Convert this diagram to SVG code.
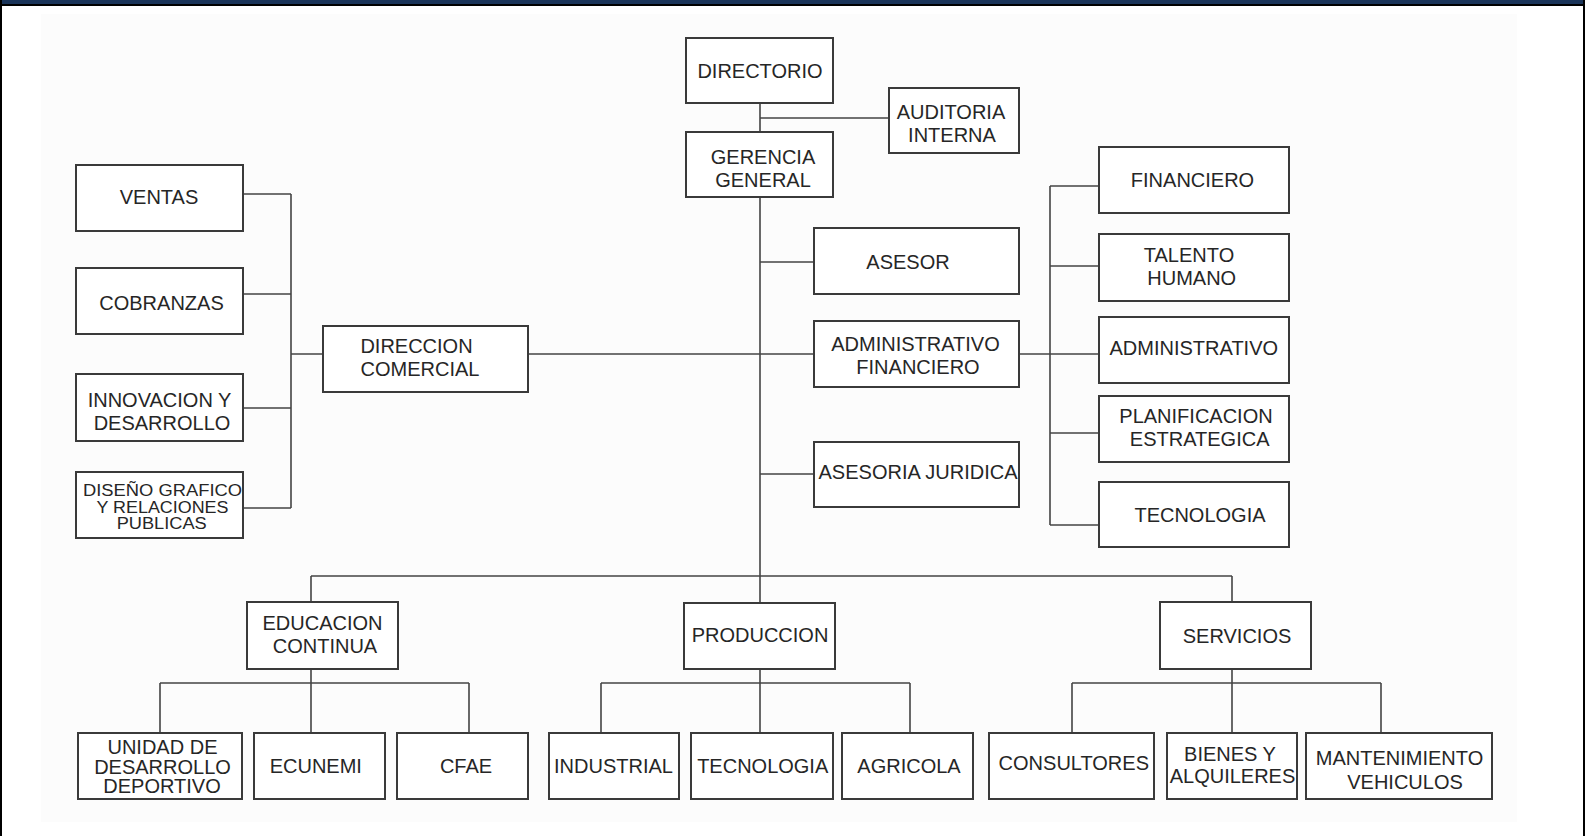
<svg xmlns="http://www.w3.org/2000/svg" width="1585" height="836" viewBox="0 0 1585 836">
<style>
.box{fill:#ffffff;stroke:#3a3a3a;stroke-width:2}
.ln{fill:none;stroke:#444444;stroke-width:1.6}
text{font-family:"Liberation Sans",Arial,Helvetica,sans-serif;font-size:20px;fill:#262626;text-anchor:middle}
.sm{font-size:16px}
</style>
<rect x="0" y="0" width="1585" height="836" fill="#ffffff"/>
<rect x="41" y="14" width="1476" height="808" fill="#fcfcfc"/>
<rect x="0" y="0" width="1585" height="4" fill="#1a3459"/>
<rect x="0" y="4" width="1585" height="2" fill="#000000"/>
<rect x="0" y="0" width="2" height="836" fill="#000000"/>
<rect x="1583" y="0" width="2" height="836" fill="#000000"/>

<g id="connectors">
<path class="ln" d="M760,103V132M760,118H889M760,197V576"/>
<path class="ln" d="M760,262H814M528,354H814M760,474H814"/>
<path class="ln" d="M291,194V508M243,194H291M243,294H291M243,408H291M243,508H291M291,354H323"/>
<path class="ln" d="M1019,354H1099M1050,186V525M1050,186H1099M1050,266H1099M1050,433H1099M1050,525H1099"/>
<path class="ln" d="M311,576H1232M311,576V602M760,576V603M1232,576V602"/>
<path class="ln" d="M311,669V733M160,683H469M160,683V733M469,683V733"/>
<path class="ln" d="M760,669V733M601,683H910M601,683V733M910,683V733"/>
<path class="ln" d="M1232,669V733M1072,683H1381M1072,683V733M1381,683V733"/>
</g>

<g id="directorio"><rect class="box" x="686" y="38" width="147" height="65"/><text x="760" y="77.5">DIRECTORIO</text></g>
<g id="auditoria"><rect class="box" x="889" y="88" width="130" height="65"/><text x="951" y="118.5">AUDITORIA</text><text x="952" y="141.5">INTERNA</text></g>
<g id="gerencia"><rect class="box" x="686" y="132" width="147" height="65"/><text x="763" y="164">GERENCIA</text><text x="763" y="187">GENERAL</text></g>

<g id="ventas"><rect class="box" x="76" y="165" width="167" height="66"/><text x="159" y="204">VENTAS</text></g>
<g id="cobranzas"><rect class="box" x="76" y="268" width="167" height="66"/><text x="161.5" y="310">COBRANZAS</text></g>
<g id="innovacion"><rect class="box" x="76" y="374" width="167" height="67"/><text x="159.5" y="407.3">INNOVACION Y</text><text x="162" y="430">DESARROLLO</text></g>
<g id="diseno"><rect class="box" x="76" y="472" width="167" height="66"/><text class="sm" x="162.5" y="496" textLength="159" lengthAdjust="spacingAndGlyphs">DISEÑO GRAFICO</text><text class="sm" x="162.5" y="512.5" textLength="132" lengthAdjust="spacingAndGlyphs">Y RELACIONES</text><text class="sm" x="161.7" y="529" textLength="90" lengthAdjust="spacingAndGlyphs">PUBLICAS</text></g>
<g id="direccion"><rect class="box" x="323" y="326" width="205" height="66"/><text x="416.5" y="352.7">DIRECCION</text><text x="420" y="376">COMERCIAL</text></g>

<g id="asesor"><rect class="box" x="814" y="228" width="205" height="66"/><text x="908" y="269">ASESOR</text></g>
<g id="adminfin"><rect class="box" x="814" y="321" width="205" height="66"/><text x="915.5" y="350.5">ADMINISTRATIVO</text><text x="918" y="374">FINANCIERO</text></g>
<g id="juridica"><rect class="box" x="814" y="442" width="205" height="65"/><text x="918" y="479">ASESORIA JURIDICA</text></g>

<g id="financiero"><rect class="box" x="1099" y="147" width="190" height="66"/><text x="1192.5" y="186.7">FINANCIERO</text></g>
<g id="talento"><rect class="box" x="1099" y="234" width="190" height="67"/><text x="1189" y="261.7">TALENTO</text><text x="1191.7" y="285">HUMANO</text></g>
<g id="administrativo"><rect class="box" x="1099" y="317" width="190" height="66"/><text x="1193.8" y="355">ADMINISTRATIVO</text></g>
<g id="planificacion"><rect class="box" x="1099" y="396" width="190" height="66"/><text x="1196" y="423.3">PLANIFICACION</text><text x="1199.7" y="446">ESTRATEGICA</text></g>
<g id="tecnologia-af"><rect class="box" x="1099" y="482" width="190" height="65"/><text x="1200" y="522">TECNOLOGIA</text></g>

<g id="educacion"><rect class="box" x="247" y="602" width="151" height="67"/><text x="322.5" y="630">EDUCACION</text><text x="325" y="652.7">CONTINUA</text></g>
<g id="produccion"><rect class="box" x="684" y="603" width="151" height="66"/><text x="760" y="642.3">PRODUCCION</text></g>
<g id="servicios"><rect class="box" x="1160" y="602" width="151" height="67"/><text x="1237" y="642.7">SERVICIOS</text></g>

<g id="unidad"><rect class="box" x="78" y="733" width="164" height="66"/><text x="162.5" y="754.3">UNIDAD DE</text><text x="162.5" y="774.3">DESARROLLO</text><text x="162" y="793.3">DEPORTIVO</text></g>
<g id="ecunemi"><rect class="box" x="254" y="733" width="131" height="66"/><text x="315.8" y="773.3">ECUNEMI</text></g>
<g id="cfae"><rect class="box" x="397" y="733" width="131" height="66"/><text x="466" y="773">CFAE</text></g>

<g id="industrial"><rect class="box" x="549" y="733" width="130" height="66"/><text x="613.5" y="772.7">INDUSTRIAL</text></g>
<g id="tecnologia-prod"><rect class="box" x="691" y="733" width="142" height="66"/><text x="762.7" y="772.7">TECNOLOGIA</text></g>
<g id="agricola"><rect class="box" x="842" y="733" width="131" height="66"/><text x="909" y="772.7">AGRICOLA</text></g>

<g id="consultores"><rect class="box" x="989" y="733" width="165" height="66"/><text x="1073.8" y="770">CONSULTORES</text></g>
<g id="bienes"><rect class="box" x="1167" y="733" width="130" height="66"/><text x="1230" y="761">BIENES Y</text><text x="1232.5" y="783.3">ALQUILERES</text></g>
<g id="mantenimiento"><rect class="box" x="1306" y="733" width="186" height="66"/><text x="1399.5" y="765">MANTENIMIENTO</text><text x="1405" y="789.3">VEHICULOS</text></g>
</svg>
